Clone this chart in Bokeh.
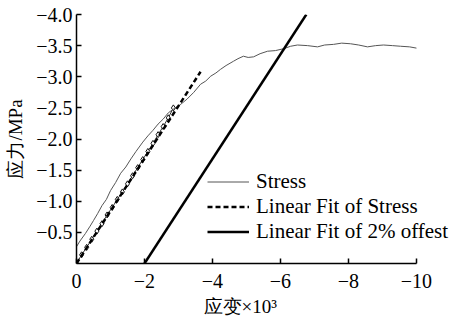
from bokeh.plotting import figure
from bokeh.models import Range1d, FixedTicker, CustomJSTickFormatter, Legend, LegendItem, Title
from bokeh.embed import file_html
from bokeh.resources import INLINE

# ---- data ----
stress_x = [0, -0.1, -0.26, -0.4, -0.5, -0.62, -0.75, -0.88, -1.0, -1.15, -1.3, -1.45, -1.6,
            -1.75, -1.95, -2.1, -2.25, -2.4, -2.55, -2.7, -2.9, -3.05, -3.25, -3.45, -3.65,
            -3.8, -3.95, -4.1, -4.24, -4.4, -4.62, -4.75, -4.91, -5.05, -5.21, -5.4, -5.62,
            -5.85, -6.09, -6.3, -6.5, -6.8, -7.09, -7.3, -7.56, -7.8, -8.06, -8.3, -8.56,
            -8.8, -9.03, -9.3, -9.53, -9.8, -10.0]
stress_y = [-0.27, -0.36, -0.48, -0.60, -0.69, -0.80, -0.93, -1.03, -1.17, -1.30, -1.45, -1.55,
            -1.68, -1.80, -1.95, -2.05, -2.14, -2.24, -2.32, -2.42, -2.50, -2.55, -2.64, -2.75,
            -2.88, -2.93, -3.01, -3.06, -3.12, -3.18, -3.25, -3.29, -3.33, -3.31, -3.32, -3.37,
            -3.41, -3.42, -3.45, -3.49, -3.51, -3.50, -3.48, -3.51, -3.52, -3.54, -3.53, -3.51,
            -3.48, -3.50, -3.51, -3.50, -3.49, -3.48, -3.46]

sample_x = [0, -0.15, -0.3, -0.45, -0.6, -0.75, -0.9, -1.05, -1.2, -1.35, -1.5, -1.65, -1.8,
            -1.95, -2.1, -2.25, -2.4, -2.55, -2.7, -2.85]
sample_y = [0, -0.14, -0.26, -0.39, -0.52, -0.64, -0.78, -0.90, -1.03, -1.15, -1.28, -1.41,
            -1.54, -1.67, -1.80, -1.93, -2.07, -2.20, -2.34, -2.50]

fit_x = [0, -3.65]
fit_y = [0, -3.08]

offset_x = [-2.0, -6.76]
offset_y = [0, -4.0]

x_ticks = [0, -2, -4, -6, -8, -10]
y_ticks = [-0.5, -1.0, -1.5, -2.0, -2.5, -3.0, -3.5, -4.0]

x_label = "应变×10³"
y_label = "应力/MPa"

FONT = "Times"

# frame spans the full right side so the legend is not clipped; the axis stops at -10
p = figure(width=453, height=320, output_backend="svg", toolbar_location=None,
           x_range=Range1d(0, -11.09), y_range=Range1d(0, -4.0),
           min_border_left=76, min_border_right=0, min_border_top=14, min_border_bottom=57)
p.outline_line_color = None
p.xgrid.visible = False
p.ygrid.visible = False

r_sample = p.line(sample_x, sample_y, line_color="#333333", line_width=1)
p.scatter(sample_x, sample_y, marker="diamond", size=6, fill_color="white",
          line_color="#111111", line_width=1)
r_stress = p.line(stress_x, stress_y, line_color="#555555", line_width=1)
r_fit = p.line(fit_x, fit_y, line_color="black", line_width=2.5, line_dash="5 3")
r_off = p.line(offset_x, offset_y, line_color="black", line_width=2.5)

for ax in (p.xaxis[0], p.yaxis[0]):
    ax.axis_line_width = 1.5
    ax.axis_line_color = "black"
    ax.major_tick_in = 5
    ax.major_tick_out = 0
    ax.major_tick_line_width = 1.5
    ax.minor_tick_line_color = None
    ax.major_label_text_font = FONT
    ax.major_label_text_font_size = "20px"
    ax.major_label_text_color = "black"
    ax.axis_label_text_font = FONT
    ax.axis_label_text_font_size = "19px"
    ax.axis_label_text_font_style = "normal"
    ax.axis_label_text_color = "black"

p.xaxis[0].bounds = (-10, 0)
p.xaxis[0].ticker = FixedTicker(ticks=x_ticks)
p.yaxis[0].ticker = FixedTicker(ticks=y_ticks)
p.xaxis[0].formatter = CustomJSTickFormatter(code="return (tick < 0 ? '\u2212' : '') + Math.abs(tick).toFixed(0);")
p.yaxis[0].formatter = CustomJSTickFormatter(code="return (tick < 0 ? '\u2212' : '') + Math.abs(tick).toFixed(1);")
p.yaxis[0].axis_label = y_label
p.xaxis[0].major_label_standoff = 10
p.yaxis[0].major_label_standoff = 4
p.yaxis[0].axis_label_standoff = 7

# x axis title, placed under the -10..0 span of the axis as in the reference
xt = Title(text=x_label, align="left", offset=127, standoff=7,
           text_font=FONT, text_font_size="19px", text_font_style="normal",
           text_color="black")
p.add_layout(xt, "below")

legend = Legend(items=[
    LegendItem(label="Stress", renderers=[r_stress]),
    LegendItem(label="Linear Fit of Stress", renderers=[r_fit]),
    LegendItem(label="Linear Fit of 2% offest", renderers=[r_off]),
], location=(131, 19))
legend.background_fill_alpha = 0
legend.border_line_alpha = 0
legend.padding = 0
legend.margin = 0
legend.spacing = 0
legend.glyph_width = 42
legend.glyph_height = 21
legend.label_height = 21
legend.label_standoff = 7
legend.label_text_font = FONT
legend.label_text_font_size = "21px"
legend.label_text_color = "black"
p.add_layout(legend, "center")

open("out.html", "w").write(file_html(p, INLINE))
